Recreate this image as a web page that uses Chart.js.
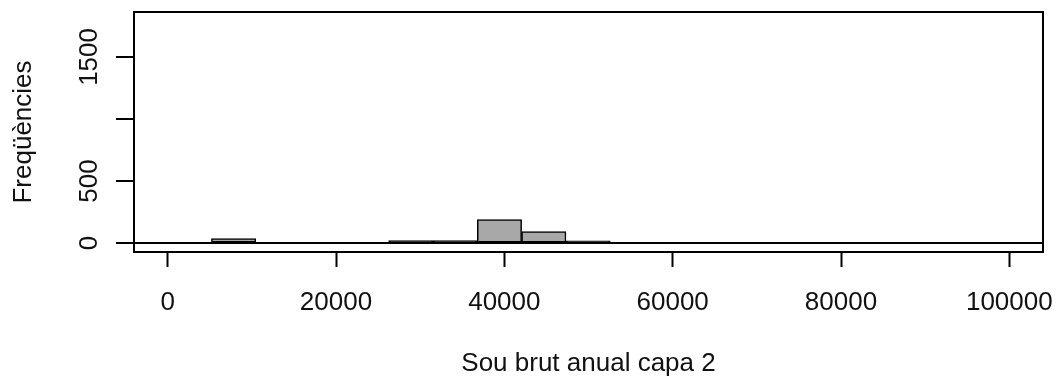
<!DOCTYPE html>
<html>
<head>
<meta charset="utf-8">
<script src="https://cdn.jsdelivr.net/npm/chart.js@4"></script>
<style>
  html, body { margin: 0; padding: 0; background: #fff; }
  #wrap { width: 1059px; height: 379px; }
</style>
</head>
<body>
<div id="wrap"><canvas id="hist"></canvas></div>
<script>
// histogram breaks and counts
const breaks = [5200, 10465, 15730, 20995, 26260, 31525, 36790, 42055, 47320, 52585];
const counts = [36, 0, 0, 0, 20, 20, 190, 93, 18];
const xTicks = [0, 20000, 40000, 60000, 80000, 100000];
const yTicks = [0, 500, 1000, 1500];
const yTickLabels = [0, 500, 1500]; // R drops the 1000 label

const FONT = "'Liberation Sans', Arial, sans-serif";
const bars = counts.map((c, i) => ({ x: (breaks[i] + breaks[i + 1]) / 2, y: c }));

// R draws outlines centred on the edges, so very low bars look solid black
function barFill(ctx) {
    const ys = ctx.chart.scales.y;
    if (ys && ctx.parsed) {
        const h = Math.abs(ys.getPixelForValue(ctx.parsed.y) - ys.getPixelForValue(0));
        if (h < 3.5) return '#000';
    }
    return '#a8a8a8';
}

// box around the plot region + rotated y labels like R
const rStyle = {
    id: 'rStyle',
    afterDraw(chart) {
        const { ctx, chartArea: a, scales } = chart;
        ctx.save();
        ctx.strokeStyle = '#000';
        ctx.lineWidth = 2;
        ctx.strokeRect(a.left, a.top, a.right - a.left, a.bottom - a.top);

        ctx.fillStyle = '#111';
        ctx.font = '26px ' + FONT;
        ctx.textAlign = 'center';
        ctx.textBaseline = 'alphabetic';
        yTickLabels.forEach(v => {
            const y = scales.y.getPixelForValue(v);
            ctx.save();
            ctx.translate(97, y);
            ctx.rotate(-Math.PI / 2);
            ctx.fillText(String(v), 0, 0);
            ctx.restore();
        });
        ctx.restore();
    }
};

new Chart(document.getElementById('hist'), {
    type: 'bar',
    data: {
        datasets: [{
            data: bars,
            backgroundColor: barFill,
            borderColor: '#000',
            borderWidth: 1.5,
            borderSkipped: false,
            barPercentage: 1,
            categoryPercentage: 1
        }]
    },
    options: {
        responsive: true,
        maintainAspectRatio: false,
        animation: false,
        layout: { padding: { top: 12, right: 16, left: 0, bottom: 0 } },
        plugins: { legend: { display: false }, tooltip: { enabled: false } },
        scales: {
            x: {
                type: 'linear',
                min: -4000,
                max: 104000,
                offset: false,
                afterBuildTicks: s => { s.ticks = xTicks.map(v => ({ value: v })); },
                afterFit: s => { s.height = 127; s.paddingLeft = 0; s.paddingRight = 0; },
                border: { display: false },
                grid: {
                    offset: false,
                    drawOnChartArea: false,
                    tickLength: 15,
                    tickWidth: 2,
                    tickColor: '#000'
                },
                ticks: {
                    color: '#111',
                    font: { family: FONT, size: 26 },
                    padding: 20,
                    maxRotation: 0,
                    autoSkip: false,
                    callback: v => String(v)
                },
                title: {
                    display: true,
                    text: 'Sou brut anual capa 2',
                    color: '#111',
                    font: { family: FONT, size: 26 },
                    padding: { top: 0, bottom: 0 }
                }
            },
            y: {
                min: -72,
                max: 1862,
                afterBuildTicks: s => { s.ticks = yTicks.map(v => ({ value: v })); },
                afterFit: s => { s.width = 134; s.paddingTop = 0; s.paddingBottom = 0; },
                border: { display: false },
                grid: {
                    drawOnChartArea: true,
                    color: c => (c.tick && c.tick.value === 0) ? '#000' : 'rgba(0,0,0,0)',
                    lineWidth: 2,
                    tickLength: 18,
                    tickWidth: 2,
                    tickColor: '#000'
                },
                ticks: { display: false },
                title: {
                    display: true,
                    text: 'Freqüències',
                    color: '#111',
                    font: { family: FONT, size: 26 },
                    padding: { top: 8, bottom: 0 }
                }
            }
        }
    },
    plugins: [rStyle]
});
</script>
</body>
</html>
